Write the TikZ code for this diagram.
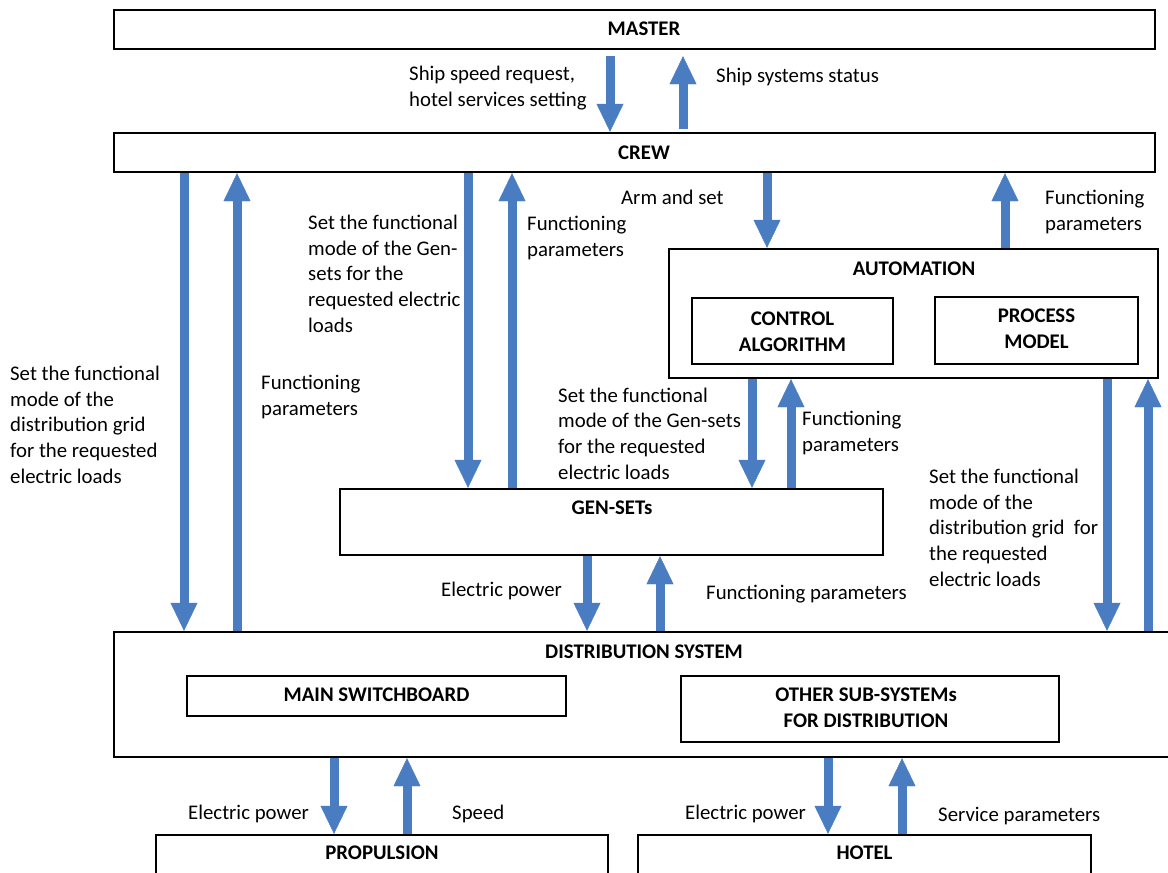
\documentclass[tikz,border=0pt]{standalone}
\usepackage{fontspec}
\setmainfont{Carlito}
\usetikzlibrary{arrows.meta}
\definecolor{arrowblue}{RGB}{74,124,194}
\tikzset{
  box/.style={draw=black, line width=2.4pt, fill=white, inner sep=0pt},
  ttl/.style={inner sep=0pt, align=center, font=\fontsize{20.8pt}{25.8pt}\selectfont\bfseries},
  lbl/.style={inner sep=0pt, align=left, anchor=base west, font=\fontsize{20.8pt}{25.6pt}\selectfont},
  fa/.style={line width=9pt, draw=arrowblue, -{Triangle[width=27pt,length=28pt,line width=0.4pt,color=arrowblue]}},
}
\begin{document}
\begin{tikzpicture}[x=1pt,y=-1pt]
\useasboundingbox (0,0) rectangle (1168,873);
\clip (0,0) rectangle (1168,873);
% boxes
\node[box, minimum width=1041pt, minimum height=39pt] (master) at (634.5,29.5) {};
\node[box, minimum width=1041pt, minimum height=39pt] (crew) at (634.5,152.5) {};
\node[box, minimum width=489pt, minimum height=129pt] (auto) at (913.5,313.5) {};
\node[box, minimum width=201pt, minimum height=66pt] (ctrl) at (792.5,331) {};
\node[box, minimum width=203pt, minimum height=67pt] (proc) at (1036.5,330.5) {};
\node[box, minimum width=543pt, minimum height=66pt] (gens) at (611.5,522) {};
\node[box, minimum width=1086pt, minimum height=125pt] (dist) at (657,694.5) {};
\node[box, minimum width=379pt, minimum height=40pt] (msb) at (376.5,696) {};
\node[box, minimum width=378pt, minimum height=66pt] (other) at (870,709) {};
\node[box, minimum width=452pt, minimum height=65pt] (prop) at (382,867.5) {};
\node[box, minimum width=453pt, minimum height=65pt] (hotel) at (864.5,867.5) {};
% titles
\node[ttl] (tmaster) at (644,29) {MASTER};
\node[ttl] (tcrew) at (644,153) {CREW};
\node[ttl] (tauto) at (914,269) {AUTOMATION};
\node[ttl] (tctrl) at (792.5,332) {CONTROL\\ALGORITHM};
\node[ttl] (tproc) at (1036.5,329) {PROCESS\\MODEL};
\node[ttl] (tgens) at (612,508) {GEN-SETs};
\node[ttl] (tdist) at (644,652) {DISTRIBUTION SYSTEM};
\node[ttl] (tmsb) at (376.5,695) {MAIN SWITCHBOARD};
\node[ttl] (tother) at (866,708) {OTHER SUB-SYSTEMs\\FOR DISTRIBUTION};
\node[ttl] (tprop) at (382,853) {PROPULSION};
\node[ttl] (thotel) at (864.5,853) {HOTEL};
% arrows
\draw[fa, shorten <=6pt] (master.south -| 610,0) -- (crew.north -| 610,0);
\draw[fa, shorten <=3pt, shorten >=6pt] (crew.north -| 683,0) -- (master.south -| 683,0);
\draw[fa] (crew.south -| 184,0) -- (dist.north -| 184,0);
\draw[fa] (dist.north -| 237,0) -- (crew.south -| 237,0);
\draw[fa] (crew.south -| 468,0) -- (gens.north -| 468,0);
\draw[fa] (gens.north -| 512,0) -- (crew.south -| 512,0);
\draw[fa] (crew.south -| 767,0) -- (auto.north -| 767,0);
\draw[fa] (auto.north -| 1005,0) -- (crew.south -| 1005,0);
\draw[fa] (auto.south -| 752,0) -- (gens.north -| 752,0);
\draw[fa] (gens.north -| 791,0) -- (auto.south -| 791,0);
\draw[fa] (gens.south -| 587,0) -- (dist.north -| 587,0);
\draw[fa] (dist.north -| 660,0) -- (gens.south -| 660,0);
\draw[fa] (auto.south -| 1107,0) -- (dist.north -| 1107,0);
\draw[fa] (dist.north -| 1148,0) -- (auto.south -| 1148,0);
\draw[fa] (dist.south -| 334,0) -- (prop.north -| 334,0);
\draw[fa] (prop.north -| 407,0) -- (dist.south -| 407,0);
\draw[fa] (dist.south -| 828,0) -- (hotel.north -| 828,0);
\draw[fa] (hotel.north -| 902,0) -- (dist.south -| 902,0);
% labels (anchor = baseline of the last line)
\node[lbl] (l1) at (409,106) {Ship speed request,\\hotel services setting};
\node[lbl] (l2) at (716,82) {Ship systems status};
\node[lbl] (l3) at (621,204) {Arm and set};
\node[lbl] (l4) at (1045,230) {Functioning\\parameters};
\node[lbl] (l5) at (308,332) {Set the functional\\mode of the Gen-\\sets for the\\requested electric\\loads};
\node[lbl] (l6) at (527,256) {Functioning\\parameters};
\node[lbl] (l7) at (10,483) {Set the functional\\mode of the\\distribution grid\\for the requested\\electric loads};
\node[lbl] (l8) at (261,415) {Functioning\\parameters};
\node[lbl] (l9) at (558,479) {Set the functional\\mode of the Gen-sets\\for the requested\\electric loads};
\node[lbl] (l10) at (802,451) {Functioning\\parameters};
\node[lbl] (l11) at (929,586) {Set the functional\\mode of the\\distribution grid\ \ for\\the requested\\electric loads};
\node[lbl] (l12) at (441,596) {Electric power};
\node[lbl] (l13) at (706,599) {Functioning parameters};
\node[lbl] (l14) at (188,819) {Electric power};
\node[lbl] (l15) at (452,819) {Speed};
\node[lbl] (l16) at (685,819) {Electric power};
\node[lbl] (l17) at (938,821) {Service parameters};
\end{tikzpicture}
\end{document}
